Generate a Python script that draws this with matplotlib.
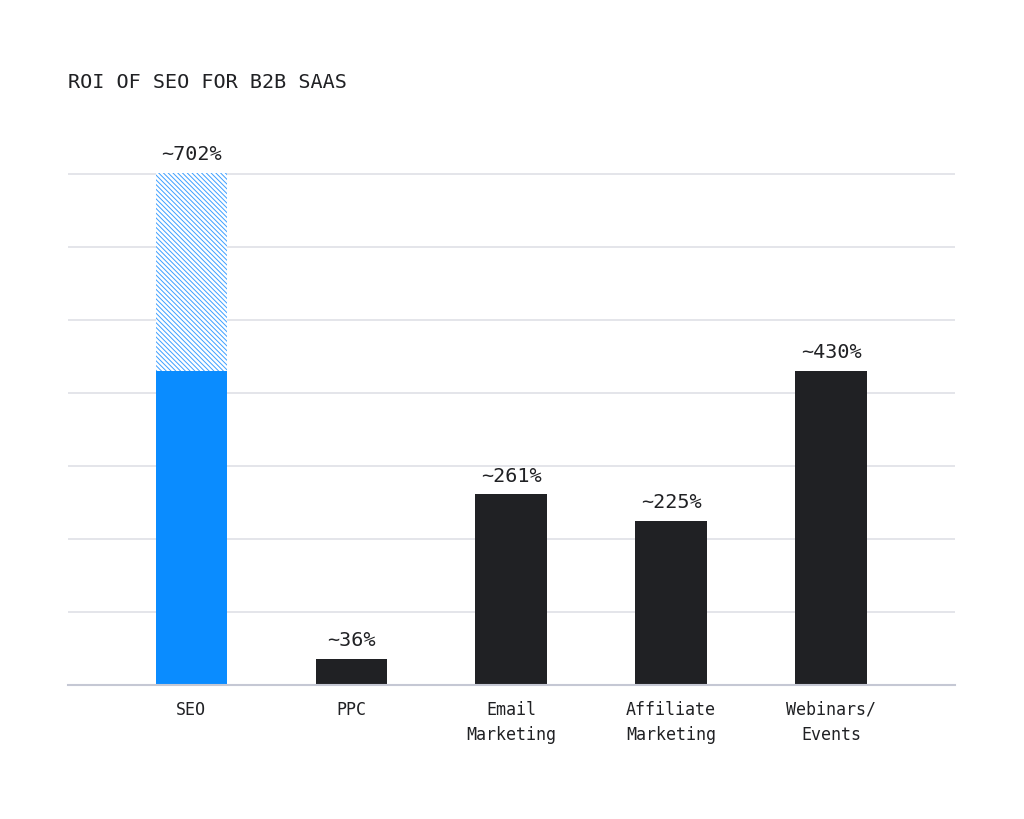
import numpy as np
from matplotlib import pyplot as plt

# data
categories = ["SEO", "PPC", "Email\nMarketing", "Affiliate\nMarketing", "Webinars/\nEvents"]
roi = [702, 36, 261, 225, 430]
value_labels = ["~702%", "~36%", "~261%", "~225%", "~430%"]
seo_solid = 430  # solid part of the SEO bar, rest is hatched

blue = "#0a8cff"
dark = "#202124"
grid_col = "#dfe0e6"

plt.rcParams['font.family'] = ['DejaVu Sans Mono']
plt.rcParams['hatch.linewidth'] = 0.7

fig = plt.figure(figsize=(10.24, 8.19), dpi=100)
ax = fig.add_axes([0.0664, 0.1636, 0.8662, 0.6418])

x = np.arange(len(categories))
w = 0.445

# dark bars (all but SEO)
ax.bar(x[1:], roi[1:], width=w, color=dark, zorder=3)
# SEO: solid + hatched
ax.bar(x[0], seo_solid, width=w, color=blue, zorder=3)
ax.bar(x[0], roi[0] - seo_solid, bottom=seo_solid, width=w, facecolor="white",
       edgecolor="#3d9fff", hatch="\\\\\\\\\\\\\\", linewidth=0, zorder=3)

for xi, v, lab in zip(x, roi, value_labels):
    ax.text(xi, v + 12, lab, ha="center", va="bottom", fontsize=14.5, color=dark)

ax.set_xlim(-0.77, 4.775)
ax.set_ylim(0, 720)
ax.set_yticks(np.arange(0, 701, 100))
ax.yaxis.grid(True, color=grid_col, linewidth=1.2, zorder=0)
ax.set_axisbelow(True)
ax.tick_params(axis="y", left=False, labelleft=False)
ax.tick_params(axis="x", bottom=False, pad=8)
ax.set_xticks(x)
ax.set_xticklabels(categories, fontsize=12, color=dark, linespacing=1.5)
for s in ["top", "right", "left"]:
    ax.spines[s].set_visible(False)
ax.spines["bottom"].set_color("#c5c8d4")
ax.spines["bottom"].set_linewidth(1.5)
ax.spines["bottom"].set_zorder(4)

fig.text(68 / 1024, 1 - 83 / 819, "ROI OF SEO FOR B2B SAAS", fontsize=14.5,
         color=dark, ha="left", va="center")

fig.savefig("out.png", dpi=100, facecolor="white")
